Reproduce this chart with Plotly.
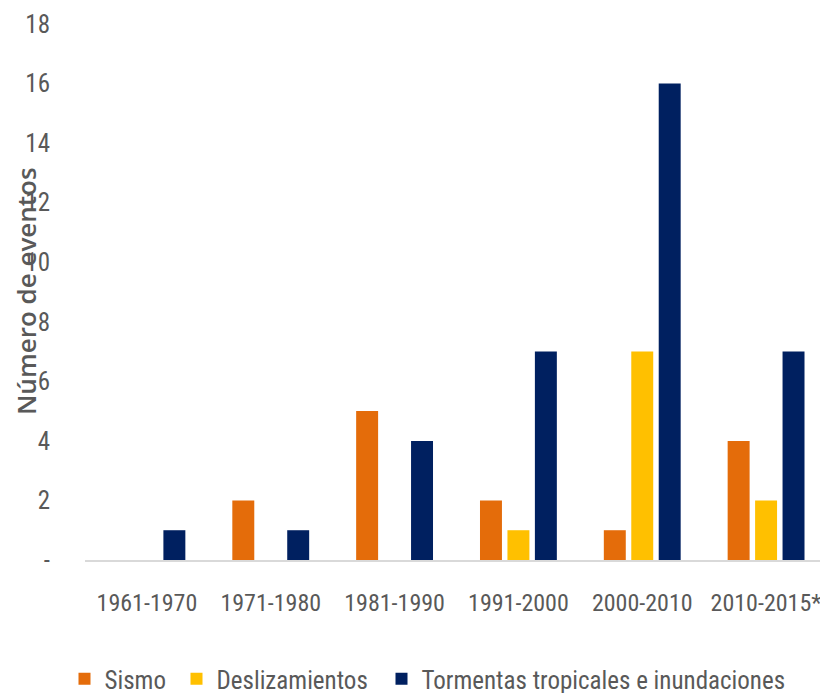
import plotly.graph_objects as go

categories = ["1961-1970", "1971-1980", "1981-1990", "1991-2000", "2000-2010", "2010-2015*"]
sismo = [0, 2, 5, 2, 1, 4]
deslizamientos = [0, 0, 0, 1, 7, 2]
tormentas = [1, 1, 4, 7, 16, 7]
series_names = ["Sismo", "Deslizamientos", "Tormentas tropicales e inundaciones"]
colors = ["#E46C0A", "#FFC000", "#002060"]
y_ticks = [0, 2, 4, 6, 8, 10, 12, 14, 16, 18]
y_tick_labels = ["-", "2", "4", "6", "8", "10", "12", "14", "16", "18"]

FONT = "Liberation Sans Narrow, Roboto Condensed, Arial Narrow, sans-serif"
GREY = "#595959"

# page has an 8px body margin; work in figure coordinates = page - 8
OFF = 8
W, H = 828 - OFF, 693 - OFF
L, R = 85 - OFF, 0
T = 24 - OFF
B = H - (560 - OFF)
PW, PH = W - L - R, H - T - B

def px_x(page_x):
    return (page_x - OFF - L) / PW

def px_y(page_y):
    return (H - B - (page_y - OFF)) / PH

legend_keys = ["legend", "legend2", "legend3"]
legend_square_centers = [84.5, 196.5, 401.5]

fig = go.Figure()
for name, vals, col, lk in zip(series_names, [sismo, deslizamientos, tormentas], colors, legend_keys):
    fig.add_trace(go.Bar(x=categories, y=vals, name=name, marker_color=col,
                         marker_line_width=0, legend=lk))

leg_common = dict(orientation="h", xanchor="left", y=px_y(679), yanchor="middle",
                  font=dict(family=FONT, size=25, color=GREY), itemwidth=30,
                  bgcolor="rgba(0,0,0,0)")

fig.update_layout(
    width=W, height=H,
    margin=dict(l=L, r=R, t=T, b=B, autoexpand=False),
    paper_bgcolor="white", plot_bgcolor="white",
    barmode="group", bargap=0.335, bargroupgap=0.2,
    font=dict(family=FONT, size=24, color=GREY),
    showlegend=True,
    legend=dict(x=px_x(legend_square_centers[0] - 20), **leg_common),
    legend2=dict(x=px_x(legend_square_centers[1] - 20), **leg_common),
    legend3=dict(x=px_x(legend_square_centers[2] - 20), **leg_common),
    xaxis=dict(showline=True, linecolor="#D9D9D9", linewidth=1.5, showgrid=False,
               ticks="", tickfont=dict(family=FONT, size=24, color=GREY),
               ticklabelstandoff=20, zeroline=False),
    yaxis=dict(range=[0, 18], tickvals=y_ticks, ticktext=y_tick_labels,
               showgrid=False, zeroline=False, showline=False, ticks="",
               tickfont=dict(family=FONT, size=25, color=GREY),
               ticklabelstandoff=34),
    annotations=[dict(text="Número de eventos", x=px_x(26), xref="paper",
                      y=px_y(291), yref="paper",
                      textangle=-90, showarrow=False, xanchor="center", yanchor="middle",
                      font=dict(family="Open Sans", size=26, color=GREY, weight=600))],
)

fig.write_html("out.html")
